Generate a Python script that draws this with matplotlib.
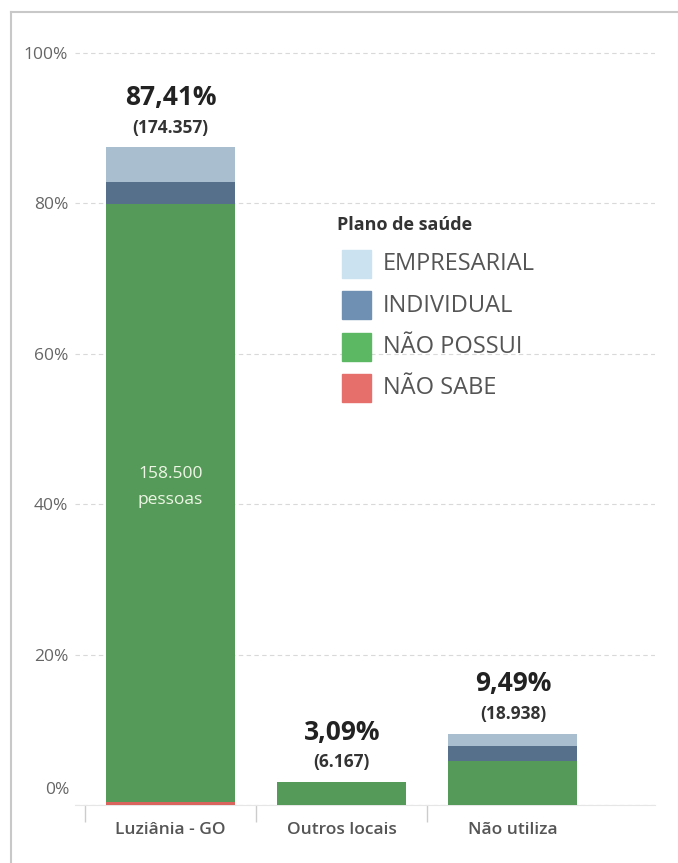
import matplotlib.pyplot as plt
from matplotlib.lines import Line2D
from matplotlib.patches import Rectangle
import numpy as np

plt.rcParams['font.family'] = ['Open Sans', 'DejaVu Sans']

# === DADOS ===
categorias = ['Luziânia - GO', 'Outros locais', 'Não utiliza']
nao_sabe = [0.35, 0.0, 0.0]
nao_possui = [79.46, 3.09, 5.85]
individual = [3.0, 0.0, 2.0]
empresarial = [4.6, 0.0, 1.64]
totais_pct = ['87,41%', '3,09%', '9,49%']
totais_n = ['(174.357)', '(6.167)', '(18.938)']
rotulo_interno = '158.500\npessoas'

legenda_nomes = ['EMPRESARIAL', 'INDIVIDUAL', 'NÃO POSSUI', 'NÃO SABE']
cores_barra = ['#a9bfcf', '#566f8b', '#569a59', '#d9645e']
cores_legenda = ['#cbe2f1', '#6f90b2', '#5cb862', '#e76f6b']

# === FIGURA ===
W, H = 678, 863
fig = plt.figure(figsize=(W / 100, H / 100), dpi=100)
ax_left, ax_right, ax_bottom, ax_top = 75, 655, 805, 30
ax = fig.add_axes([ax_left / W, (H - ax_bottom) / H,
                   (ax_right - ax_left) / W, (ax_bottom - ax_top) / H])

x = np.arange(len(categorias))
largura = 0.754
series = [nao_sabe, nao_possui, individual, empresarial]
cores_series = [cores_barra[3], cores_barra[2], cores_barra[1], cores_barra[0]]
base = np.zeros(len(categorias))
for vals, cor in zip(series, cores_series):
    vals = np.array(vals)
    ax.bar(x, vals, largura, bottom=base, color=cor, linewidth=0, zorder=3)
    base += vals

# rótulos de total
for xi, tot, pct, n in zip(x, base, totais_pct, totais_n):
    ax.text(xi, tot + 6.6, pct, ha='center', va='center', fontsize=19,
            fontweight='bold', color='#222222', zorder=4)
    ax.text(xi, tot + 2.6, n, ha='center', va='center', fontsize=12.5,
            fontweight='bold', color='#333333', zorder=4)

ax.text(x[0], nao_sabe[0] + nao_possui[0] * 0.527, rotulo_interno, ha='center',
        va='center', fontsize=12.5, color='#eef7e6', linespacing=1.85, zorder=4)

# eixos
ax.set_ylim(0, 103)
ax.set_xlim(-0.558, 2.83)
ax.set_yticks([0, 20, 40, 60, 80, 100])
ax.set_yticklabels(['', '20%', '40%', '60%', '80%', '100%'])
ax.tick_params(axis='y', length=0, pad=5, labelsize=12.5, labelcolor='#666666')
# 0% fica um pouco acima da linha de base
ax.annotate('0%', xy=(0, 0), xycoords=('axes fraction', 'data'), xytext=(-5, 15),
            textcoords='offset pixels', ha='right', va='center', fontsize=12.5,
            color='#666666')
ax.set_xticks(x)
ax.set_xticklabels(categorias)
ax.tick_params(axis='x', length=0, pad=12, labelsize=12.5, labelcolor='#555555')
for lbl in ax.get_xticklabels():
    lbl.set_fontweight('semibold')
ax.set_xticks([-0.5, 0.5, 1.5], minor=True)
ax.tick_params(axis='x', which='minor', length=12, color='#cccccc', width=1)
ax.yaxis.grid(True, color='#d9d9d9', linestyle=(0, (4, 3)), linewidth=0.8, zorder=0)
ax.set_axisbelow(True)
for lado in ['top', 'right', 'left']:
    ax.spines[lado].set_visible(False)
ax.spines['bottom'].set_color('#e6e6e6')
ax.spines['bottom'].set_linewidth(0.8)

# legenda
fig.text(337 / W, 1 - 225 / H, 'Plano de saúde', fontsize=13, fontweight='bold',
         color='#333333', ha='left', va='center')
for i, (nome, cor) in enumerate(zip(legenda_nomes, cores_legenda)):
    yc = 264 + i * 41.5
    fig.patches.append(Rectangle((342 / W, 1 - (yc + 14) / H), 29 / W, 28 / H,
                                 transform=fig.transFigure, color=cor, figure=fig))
    fig.text(383 / W, 1 - yc / H, nome, fontsize=17, color='#555555',
             ha='left', va='center')

# moldura
fig.add_artist(Line2D([11 / W, 11 / W], [0, 1 - 12 / H], transform=fig.transFigure,
                      color='#c8c8c8', linewidth=1.5))
fig.add_artist(Line2D([11 / W, 1], [1 - 12 / H, 1 - 12 / H], transform=fig.transFigure,
                      color='#c8c8c8', linewidth=1.5))

fig.savefig('out.png', dpi=100)
